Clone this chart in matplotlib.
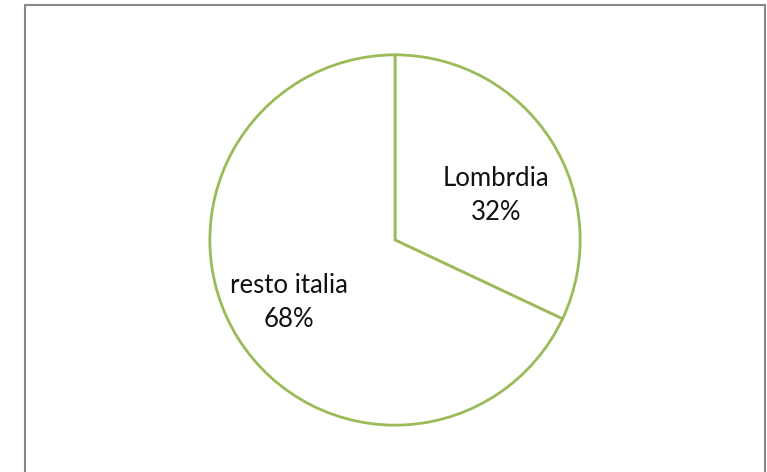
import matplotlib.pyplot as plt
from matplotlib.patches import Rectangle

labels = ["Lombrdia", "resto italia"]
values = [32, 68]
# label centres, in pie radius units
label_pos = [(0.545, 0.24), (-0.572, -0.337)]

plt.rcParams['font.family'] = ['Lato', 'DejaVu Sans']

fig = plt.figure(figsize=(7.67, 4.72), dpi=100)

# outer chart frame (bottom edge falls outside the image)
fig.patches.append(Rectangle((25 / 767, -0.05), 740 / 767, (472 - 5) / 472 + 0.05,
                             transform=fig.transFigure, fill=False,
                             edgecolor="#888888", linewidth=1.5))

ax = fig.add_axes([208 / 767, 45 / 472, 374 / 767, 374 / 472])
wedges, _ = ax.pie(values, startangle=90, counterclock=False, radius=1,
                   colors=["white", "white"],
                   wedgeprops=dict(edgecolor="#9BBB59", linewidth=2.0))
ax.set_xlim(-1.01, 1.01)
ax.set_ylim(-1.01, 1.01)
ax.set_aspect("equal")
ax.axis("off")

for lab, v, (x, y) in zip(labels, values, label_pos):
    ax.text(x, y, f"{lab}\n{v}%", ha="center", va="center",
            fontsize=18.5, color="#111111", linespacing=1.45)

fig.savefig("out.png", dpi=100)
